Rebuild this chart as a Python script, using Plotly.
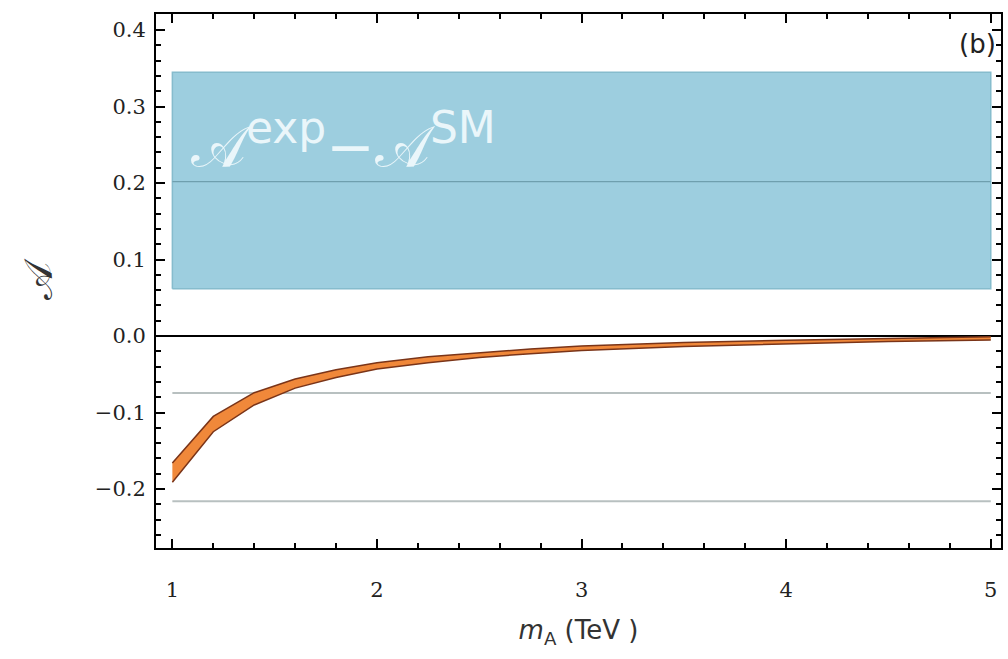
import plotly.graph_objects as go

# Data
m_A = [1.0, 1.2, 1.4, 1.6, 1.8, 2.0, 2.25, 2.5, 2.75, 3.0, 3.5, 4.0, 4.5, 5.0]
A_upper = [-0.166, -0.105, -0.074, -0.056, -0.044, -0.035, -0.027, -0.022, -0.017, -0.013, -0.0085, -0.0055, -0.003, -0.001]
A_lower = [-0.191, -0.125, -0.090, -0.068, -0.054, -0.043, -0.035, -0.028, -0.023, -0.019, -0.0135, -0.0105, -0.007, -0.005]

band_x = [1.0, 5.0]
band_low = 0.062
band_high = 0.345
band_mid = 0.202
gray_lines = [-0.0745, -0.216]

x_ticks = [1, 2, 3, 4, 5]
y_ticks = [-0.2, -0.1, 0.0, 0.1, 0.2, 0.3, 0.4]
y_tick_text = ["\u22120.2", "\u22120.1", "0.0", "0.1", "0.2", "0.3", "0.4"]

fig = go.Figure()

# experimental band
fig.add_trace(go.Scatter(
    x=[band_x[0], band_x[1], band_x[1], band_x[0], band_x[0]],
    y=[band_low, band_low, band_high, band_high, band_low],
    fill="toself", fillcolor="#9dcedf", mode="lines",
    line=dict(color="#86bccd", width=1.5), hoverinfo="skip", showlegend=False))
fig.add_trace(go.Scatter(x=band_x, y=[band_mid, band_mid], mode="lines",
                         line=dict(color="#6f9fae", width=1.2), showlegend=False))

for g in gray_lines:
    fig.add_trace(go.Scatter(x=band_x, y=[g, g], mode="lines",
                             line=dict(color="#b8c0c0", width=2), showlegend=False))

# orange prediction band
fig.add_trace(go.Scatter(x=m_A, y=A_upper, mode="lines",
                         line=dict(color="#7a3418", width=1.5), showlegend=False))
fig.add_trace(go.Scatter(x=m_A, y=A_lower, mode="lines", fill="tonexty",
                         fillcolor="#f0883a",
                         line=dict(color="#7a3418", width=1.5), showlegend=False))

tickfont = dict(family="DejaVu Serif", size=21, color="#222222")

fig.update_xaxes(
    range=[0.92, 5.05], tickvals=x_ticks, ticktext=[str(t) for t in x_ticks],
    ticks="inside", ticklen=9, tickwidth=2, tickcolor="black",
    showline=True, linecolor="black", linewidth=2, mirror="ticks",
    showgrid=False, zeroline=False, tickfont=tickfont, ticklabelstandoff=22,
    minor=dict(dtick=0.2, tick0=1, ticks="inside", ticklen=5, tickwidth=1.5, tickcolor="black", showgrid=False),
    title=dict(text="<i>m</i><sub>A</sub> (TeV )", font=dict(family="DejaVu Sans", size=26, color="#333333"), standoff=20),
)
fig.update_yaxes(
    range=[-0.277, 0.421], tickvals=y_ticks, ticktext=y_tick_text,
    ticks="inside", ticklen=9, tickwidth=2, tickcolor="black",
    showline=True, linecolor="black", linewidth=2, mirror="ticks",
    showgrid=False, zeroline=True, zerolinecolor="black", zerolinewidth=2,
    tickfont=tickfont, ticklabelstandoff=4,
    minor=dict(dtick=0.02, tick0=0, ticks="inside", ticklen=5, tickwidth=1.5, tickcolor="black", showgrid=False),
    title=dict(text="\U0001D49C", font=dict(family="DejaVu Serif", size=40, color="#333333"), standoff=30),
)

fig.add_annotation(x=1.08, y=0.255, xref="x", yref="y", xanchor="left", yanchor="middle",
                   text=("\U0001D49C<sup><span style='font-size:44px'>exp</span></sup>"
                         "\u2212\U0001D49C<sup><span style='font-size:44px'>SM</span></sup>"),
                   showarrow=False, font=dict(family="DejaVu Sans", size=58, color="#eaf6fa"))
fig.add_annotation(x=0.997, y=0.975, xref="paper", yref="paper", xanchor="right", yanchor="top",
                   text="(b)", showarrow=False, font=dict(family="DejaVu Sans", size=26, color="#222222"))

fig.update_layout(
    width=1008, height=659,
    margin=dict(l=156, r=5, t=14, b=111),
    plot_bgcolor="white", paper_bgcolor="white",
)

fig.write_html("out.html")
